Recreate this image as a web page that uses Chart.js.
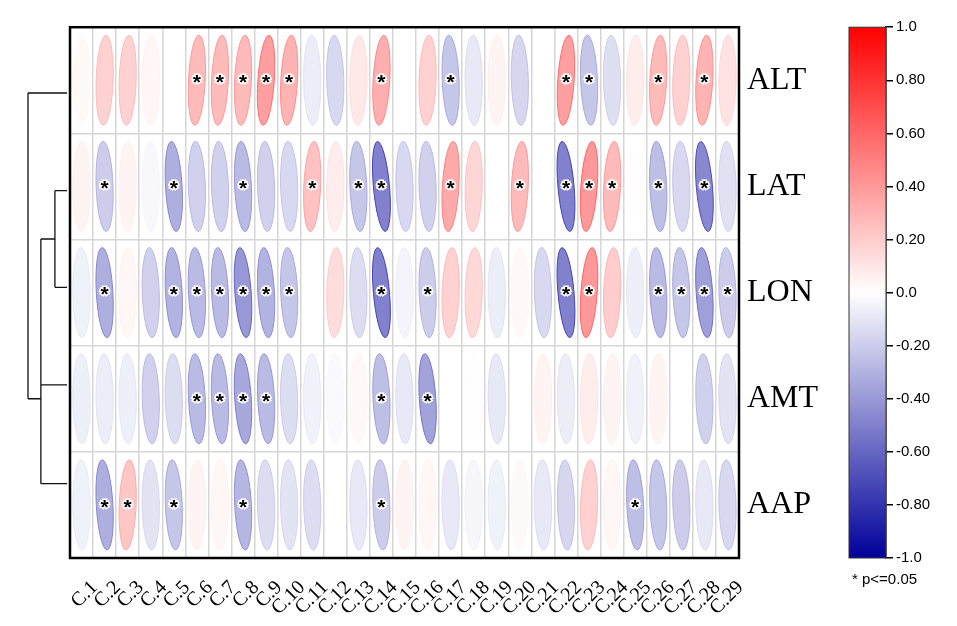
<!DOCTYPE html>
<html>
<head>
<meta charset="utf-8">
<script src="https://cdn.jsdelivr.net/npm/chart.js@4.4.1/dist/chart.umd.min.js"></script>
<style>
  html, body { margin: 0; padding: 0; background: #fff; }
  #wrap { width: 957px; height: 626px; }
</style>
</head>
<body>
<div id="wrap"><canvas id="corr"></canvas></div>
<script>
// Columns and rows of the correlation matrix
const columns = ['C.1','C.2','C.3','C.4','C.5','C.6','C.7','C.8','C.9','C.10',
  'C.11','C.12','C.13','C.14','C.15','C.16','C.17','C.18','C.19','C.20',
  'C.21','C.22','C.23','C.24','C.25','C.26','C.27','C.28','C.29'];
const rows = ['ALT', 'LAT', 'LON', 'AMT', 'AAP'];

// Correlation coefficients, one array per row
const corrALT = [0.02, 0.20, 0.20, 0.04, 0.00, 0.30, 0.30, 0.30, 0.42, 0.33,
  -0.08, -0.17, 0.10, 0.35, 0.00, 0.20, -0.25, -0.10, 0.05, -0.18,
  0.00, 0.42, -0.25, -0.14, 0.08, 0.30, 0.20, 0.33, 0.12];
const corrLAT = [0.05, -0.22, 0.05, -0.03, -0.35, -0.20, -0.20, -0.30, -0.20, -0.17,
  0.27, 0.08, -0.25, -0.55, -0.17, -0.20, 0.37, 0.18, 0.00, 0.30,
  0.00, -0.55, 0.45, 0.30, 0.01, -0.28, -0.17, -0.52, -0.13];
const corrLON = [-0.06, -0.35, 0.04, -0.20, -0.33, -0.30, -0.30, -0.45, -0.33, -0.25,
  0.00, 0.15, -0.15, -0.55, -0.05, -0.22, 0.20, 0.17, -0.08, 0.03,
  -0.17, -0.55, 0.45, 0.22, -0.07, -0.30, -0.25, -0.42, -0.22];
const corrAMT = [-0.07, -0.08, -0.07, -0.20, -0.15, -0.30, -0.30, -0.38, -0.30, -0.15,
  -0.06, -0.02, 0.03, -0.28, -0.10, -0.40, 0.00, 0.01, -0.10, 0.00,
  0.05, -0.08, 0.08, 0.05, -0.06, 0.05, 0.00, -0.20, -0.12];
const corrAAP = [-0.06, -0.35, 0.25, -0.12, -0.25, 0.05, 0.04, -0.32, -0.15, -0.12,
  -0.15, 0.00, -0.10, -0.22, 0.05, 0.04, -0.10, -0.04, -0.06, 0.02,
  -0.10, -0.18, 0.20, 0.04, -0.28, -0.25, -0.22, -0.10, -0.17];

// Columns with p <= 0.05 for each row
const sigALT = [6, 7, 8, 9, 10, 14, 17, 22, 23, 26, 28];
const sigLAT = [2, 5, 8, 11, 13, 14, 17, 20, 22, 23, 24, 26, 28];
const sigLON = [2, 5, 6, 7, 8, 9, 10, 14, 16, 22, 23, 26, 27, 28, 29];
const sigAMT = [6, 7, 8, 9, 14, 16];
const sigAAP = [2, 3, 5, 8, 14, 25];

// Colour bar ticks
const barTicks = [1.0, 0.8, 0.6, 0.4, 0.2, 0.0, -0.2, -0.4, -0.6, -0.8, -1.0];

// Dendrogram: leaf positions (in row units) and merge heights
const leafPos = [0.12, 1.04, 1.95, 2.87, 3.80];
const mergeLatLon = 0.31;
const mergeRest = 0.67;
const mergeRoot = 1.0;
const rootJoinPos = 3.0;

const corrRows = [corrALT, corrLAT, corrLON, corrAMT, corrAAP];
const sigRows = [sigALT, sigLAT, sigLON, sigAMT, sigAAP];

// Build scatter points for every cell
const cells = [];
rows.forEach((r, ri) => {
    corrRows[ri].forEach((v, ci) => {
        cells.push({ x: columns[ci], y: r, r: v, sig: sigRows[ri].includes(ci + 1) });
    });
});

// White -> red for positive, white -> navy for negative
function colorFor(v, k) {
    const t = Math.min(1, Math.abs(v) * (k || 1));
    if (v >= 0) {
        const g = Math.round(255 * (1 - t));
        return `rgb(255,${g},${g})`;
    }
    const c = Math.round(255 * (1 - t));
    const b = Math.round(255 - (255 - 154) * t);
    return `rgb(${c},${c},${b})`;
}

const ellipsePlugin = {
    id: 'ellipses',
    afterDatasetsDraw(chart) {
        const ctx = chart.ctx;
        const xs = chart.scales.x, ys = chart.scales.y;
        const colW = xs.width / columns.length;
        const rowH = ys.height / rows.length;
        const meta = chart.getDatasetMeta(0);
        ctx.save();
        meta.data.forEach((pt, i) => {
            const c = cells[i];
            if (Math.abs(c.r) < 0.005) return;
            const rx = colW * 0.38 * (1 - 0.15 * Math.abs(c.r));
            const ry = rowH * 0.425;
            ctx.beginPath();
            ctx.ellipse(pt.x, pt.y, rx, ry, c.r * 0.16, 0, Math.PI * 2);
            ctx.fillStyle = colorFor(c.r, 0.9);
            ctx.fill();
            ctx.lineWidth = 1;
            ctx.strokeStyle = colorFor(c.r, 1.35);
            ctx.stroke();
        });
        ctx.font = 'bold 21px "Liberation Sans", Arial';
        ctx.textAlign = 'center';
        ctx.textBaseline = 'middle';
        meta.data.forEach((pt, i) => {
            if (!cells[i].sig) return;
            ctx.lineWidth = 3;
            ctx.strokeStyle = '#fff';
            ctx.strokeText('*', pt.x, pt.y + 3);
            ctx.fillStyle = '#000';
            ctx.fillText('*', pt.x, pt.y + 3);
        });
        ctx.restore();
    },
    afterDraw(chart) {
        const ctx = chart.ctx;
        const a = chart.chartArea;
        const ys = chart.scales.y;
        const cb = chart.scales.cbar;
        ctx.save();
        // plot frame
        ctx.strokeStyle = '#000';
        ctx.lineWidth = 2.5;
        ctx.strokeRect(a.left, a.top, a.right - a.left, a.bottom - a.top);

        // dendrogram
        const hx = h => a.left - 3 - h * 39;
        const py = p => ys.getPixelForValue(p);
        ctx.lineWidth = 1.3;
        ctx.strokeStyle = '#111';
        ctx.beginPath();
        leafPos.forEach((p, i) => {
            const h = i === 0 ? mergeRoot : (i <= 2 ? mergeLatLon : mergeRest);
            ctx.moveTo(hx(0), py(p));
            ctx.lineTo(hx(h), py(p));
        });
        const latLonMid = (leafPos[1] + leafPos[2]) / 2;
        ctx.moveTo(hx(mergeLatLon), py(leafPos[1]));
        ctx.lineTo(hx(mergeLatLon), py(leafPos[2]));
        ctx.moveTo(hx(mergeLatLon), py(latLonMid));
        ctx.lineTo(hx(mergeRest), py(latLonMid));
        ctx.moveTo(hx(mergeRest), py(latLonMid));
        ctx.lineTo(hx(mergeRest), py(leafPos[4]));
        ctx.moveTo(hx(mergeRest), py(rootJoinPos));
        ctx.lineTo(hx(mergeRoot), py(rootJoinPos));
        ctx.moveTo(hx(mergeRoot), py(leafPos[0]));
        ctx.lineTo(hx(mergeRoot), py(rootJoinPos));
        ctx.stroke();

        // colour bar
        const top = cb.getPixelForValue(1);
        const bot = cb.getPixelForValue(-1);
        const right = cb.left;
        const left = right - 37;
        const grad = ctx.createLinearGradient(0, top, 0, bot);
        barTicks.forEach(v => grad.addColorStop((1 - v) / 2, colorFor(v)));
        ctx.fillStyle = grad;
        ctx.fillRect(left, top, right - left, bot - top);
        ctx.lineWidth = 1;
        ctx.strokeStyle = '#333';
        ctx.strokeRect(left, top, right - left, bot - top);

        ctx.fillStyle = '#000';
        ctx.font = '15px "Liberation Sans", Arial';
        ctx.textAlign = 'left';
        ctx.textBaseline = 'middle';
        ctx.fillText('* p<=0.05', left + 3, bot + 22);
        ctx.restore();
    }
};

new Chart(document.getElementById('corr'), {
    type: 'scatter',
    data: {
        datasets: [{
            data: cells,
            pointRadius: 0,
            pointHoverRadius: 0
        }]
    },
    options: {
        responsive: true,
        maintainAspectRatio: false,
        animation: false,
        events: [],
        layout: { padding: { left: 70, top: 22, right: 0, bottom: 0 } },
        plugins: { legend: { display: false }, tooltip: { enabled: false } },
        scales: {
            x: {
                type: 'category',
                labels: columns,
                offset: true,
                grid: { offset: true, color: '#d6d6d6', lineWidth: 1.5, drawTicks: false },
                border: { display: false },
                ticks: {
                    autoSkip: false, maxRotation: 45, minRotation: 45,
                    padding: 18, labelOffset: 13, color: '#000',
                    font: { family: '"Liberation Serif", "Times New Roman", serif', size: 20 }
                },
                afterFit: s => { s.height = 68; }
            },
            y: {
                type: 'category',
                labels: rows,
                offset: true,
                position: 'right',
                weight: 0,
                grid: { offset: true, color: '#d6d6d6', lineWidth: 1.5, drawTicks: false },
                border: { display: false },
                ticks: {
                    padding: 8, color: '#000',
                    font: { family: '"Liberation Serif", "Times New Roman", serif', size: 32 }
                },
                afterFit: s => { s.width = 147; }
            },
            cbar: {
                type: 'linear',
                axis: 'y',
                position: 'right',
                weight: 1,
                min: -1,
                max: 1,
                grid: { drawOnChartArea: false, color: '#000', tickLength: 7, lineWidth: 1.5 },
                border: { display: true, color: '#000', width: 1.5 },
                afterBuildTicks: s => { s.ticks = barTicks.map(v => ({ value: v })); },
                ticks: {
                    padding: 3, color: '#000',
                    font: { family: '"Liberation Sans", Arial', size: 15 },
                    callback: v => (Math.abs(v) < 1e-9 || Math.abs(Math.abs(v) - 1) < 1e-9)
                        ? v.toFixed(1) : v.toFixed(2)
                },
                afterFit: s => { s.width = 71; }
            }
        }
    },
    plugins: [ellipsePlugin]
});
</script>
</body>
</html>
